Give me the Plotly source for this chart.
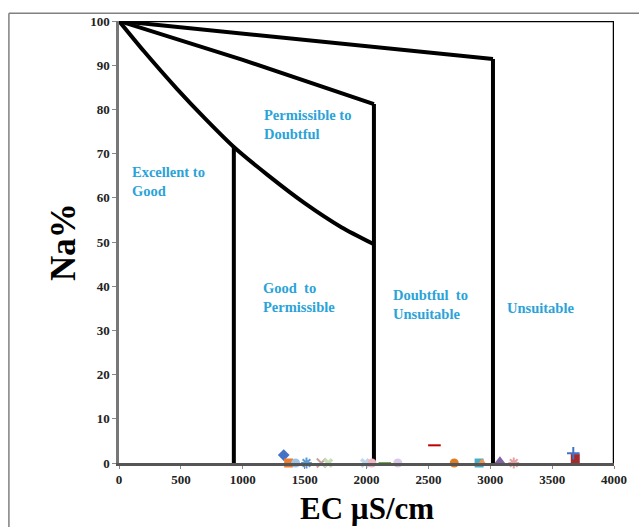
import plotly.graph_objects as go

# Boundary curves (EC, Na%)
curve1_x = [0, 200, 470, 700, 928, 1200, 1500, 1800, 2060]
curve1_y = [100, 93.2, 84.6, 77.8, 71.5, 65.2, 58.8, 53.3, 49.5]
curve2_x = [0, 1000, 2060]
curve2_y = [100, 91.2, 81.2]
curve3_x = [0, 3022]
curve3_y = [100, 91.4]
vert_x = [928, 2060, 3022]
vert_top = [71.5, 81.2, 91.4]

# Sample points
samples = [
    ("S1", 1331, 1.8, "diamond", "#4472c4"),
    ("S2", 1371, 0, "square", "#ed7d31"),
    ("S3", 1427, 0, "circle", "#9dc3e6"),
    ("S4", 1515, 0, "asterisk-open", "#5b9bd5"),
    ("S5", 1635, 0, "x-thin-open", "#c9a0a0"),
    ("S6", 1691, 0, "x", "#c5e0b4"),
    ("S7", 1988, 0, "x", "#bdd7ee"),
    ("S8", 2044, 0, "circle", "#f4b6c2"),
    ("S9", 2148, 0, "line-ew-open", "#70ad47"),
    ("S10", 2253, 0, "circle", "#d9c8e8"),
    ("S11", 2549, 4.0, "line-ew-open", "#c00000"),
    ("S12", 2709, 0, "circle", "#e07b1f"),
    ("S13", 2910, 0, "square", "#4bacc6"),
    ("S14", 2934, 0, "triangle-up", "#f79646"),
    ("S15", 3078, 0.5, "triangle-up", "#8064a2"),
    ("S16", 3190, 0, "asterisk-open", "#e6a0a0"),
    ("S17", 3687, 1.0, "square", "#a52a2a"),
    ("S18", 3671, 2.2, "cross-thin-open", "#4472c4"),
]

labels = [
    ("Excellent to<br>Good", 88, 63.7),
    ("Permissible to<br>Doubtful", 1154, 76.5),
    ("Good  to<br>Permissible", 1146, 37.5),
    ("Doubtful  to<br>Unsuitable", 2196, 35.9),
    ("Unsuitable", 3118, 35.0),
]

x_ticks = [0, 500, 1000, 1500, 2000, 2500, 3000, 3500, 4000]
y_ticks = [0, 10, 20, 30, 40, 50, 60, 70, 80, 90, 100]

fig = go.Figure()
line_style = dict(color="black", width=4)
for xs, ys in [(curve1_x, curve1_y), (curve2_x, curve2_y), (curve3_x, curve3_y)]:
    fig.add_trace(go.Scatter(x=xs, y=ys, mode="lines",
                             line=dict(color="black", width=4, shape="spline", smoothing=0.6),
                             showlegend=False, hoverinfo="skip"))
for vx, vt in zip(vert_x, vert_top):
    fig.add_trace(go.Scatter(x=[vx, vx], y=[0, vt], mode="lines", line=line_style,
                             showlegend=False, hoverinfo="skip"))
# plot frame top and right
fig.add_trace(go.Scatter(x=[0, 4000, 4000], y=[100, 100, 0], mode="lines",
                         line=dict(color="black", width=2.5), showlegend=False,
                         hoverinfo="skip", cliponaxis=False))

for name, sx, sy, sym, col in samples:
    open_sym = sym.endswith("open")
    fig.add_trace(go.Scatter(
        x=[sx], y=[sy], mode="markers", name=name, showlegend=False,
        cliponaxis=False,
        marker=dict(symbol=sym, size=9, color=col,
                    line=dict(color=col, width=2 if open_sym else 0))))

for txt, lx, ly in labels:
    fig.add_annotation(x=lx, y=ly, text=txt, showarrow=False, xanchor="left",
                       yanchor="middle", align="left",
                       font=dict(family="Liberation Serif", size=14.5,
                                 color="#2aa3d8", weight="bold"))

# axis titles
fig.add_annotation(xref="paper", yref="paper", x=0.5, y=-0.102, yanchor="middle",
                   text="EC µS/cm", showarrow=False,
                   font=dict(family="Liberation Serif", size=31, color="black",
                             weight="bold"))
fig.add_annotation(xref="paper", yref="paper", x=-0.113, y=0.5, xanchor="center",
                   text="Na%", textangle=-90, showarrow=False,
                   font=dict(family="Liberation Serif", size=35, color="black",
                             weight="bold"))

# outer frame
fig.add_shape(type="line", xref="paper", yref="paper", x0=-0.2224, x1=1.1, y0=1.0178, y1=1.0178,
              line=dict(color="#808080", width=1.5))
fig.add_shape(type="line", xref="paper", yref="paper", x0=-0.2224, x1=-0.2224, y0=1.0178, y1=-0.2,
              line=dict(color="#808080", width=1.5))

tick_font = dict(family="Liberation Serif", size=13, color="#222222", weight="bold")
fig.update_layout(
    width=639, height=527,
    margin=dict(l=119, r=21, t=21, b=64),
    plot_bgcolor="white", paper_bgcolor="white",
    showlegend=False,
)
fig.update_xaxes(range=[0, 4000], tickvals=x_ticks, showgrid=False, zeroline=False,
                 showline=True, linecolor="#555555", linewidth=2.5,
                 ticks="outside", ticklen=3, tickcolor="#888888", tickfont=tick_font)
fig.update_yaxes(range=[0, 100], tickvals=y_ticks, showgrid=False, zeroline=False,
                 showline=True, linecolor="#777777", linewidth=2.5,
                 ticks="outside", ticklen=4, tickcolor="#888888", tickfont=tick_font)

fig.write_html("out.html", config={"displayModeBar": False},
               post_script="document.body.style.margin='0';document.body.style.overflow='hidden';")
